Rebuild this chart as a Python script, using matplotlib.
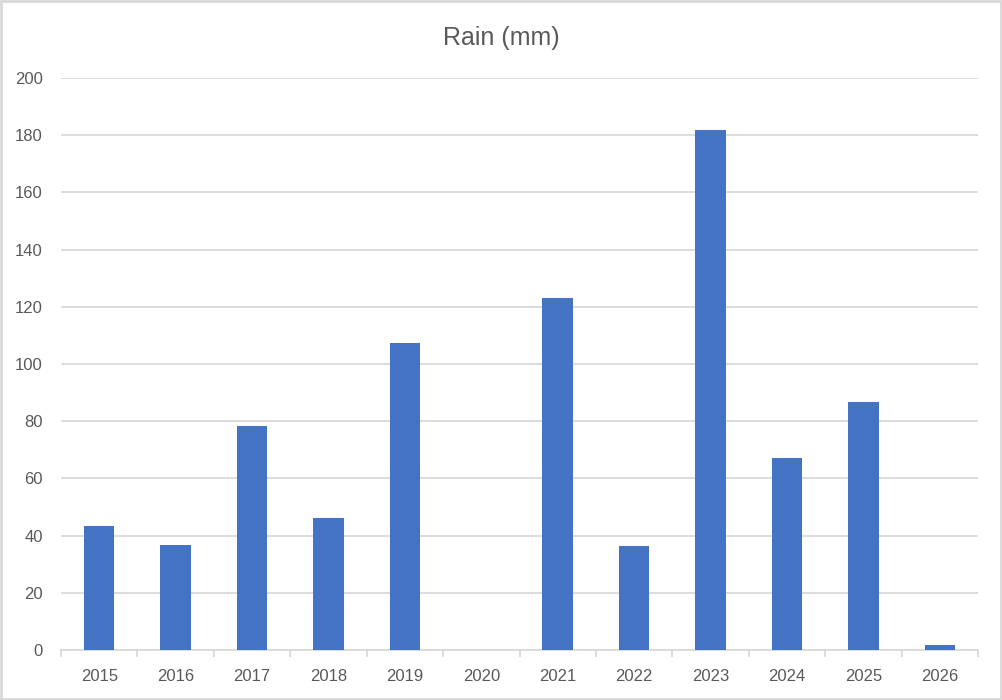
import matplotlib
matplotlib.use("Agg")
import matplotlib.pyplot as plt
from matplotlib.patches import Rectangle
import numpy as np

years = ["2015", "2016", "2017", "2018", "2019", "2020", "2021", "2022", "2023", "2024", "2025", "2026"]
rain = [43.5, 36.8, 78.2, 46.3, 107.3, 0, 123.0, 36.5, 181.8, 67.3, 86.6, 1.8]
yticks = [0, 20, 40, 60, 80, 100, 120, 140, 160, 180, 200]

plt.rcParams['font.family'] = ['Liberation Sans', 'DejaVu Sans']
text_color = "#595959"
grid_color = "#D9D9D9"

fig = plt.figure(figsize=(10.02, 7.0), dpi=100)
ax = fig.add_axes([61/1002, 1-650/700, (978-61)/1002, (650-78)/700])

x = np.arange(len(years))
ax.bar(x, rain, width=0.4, color="#4472C4", zorder=3)

ax.set_xlim(-0.5, len(years)-0.5)
ax.set_ylim(0, 200)
ax.set_yticks(yticks)
ax.set_yticklabels([str(v) for v in yticks])
ax.set_xticks(x)
ax.set_xticklabels(years)
ax.set_xticks(np.arange(-0.5, len(years), 1.0), minor=True)

ax.grid(axis='y', color=grid_color, linewidth=1.3, zorder=0)
for s in ['top', 'right', 'left']:
    ax.spines[s].set_visible(False)
ax.spines['bottom'].set_color(grid_color)
ax.spines['bottom'].set_linewidth(1.3)

ax.tick_params(axis='y', length=0, pad=13, labelsize=12, labelcolor=text_color)
ax.tick_params(axis='x', which='major', length=0, pad=13.5, labelsize=12, labelcolor=text_color)
ax.tick_params(axis='x', which='minor', length=5, width=1.3, color=grid_color)

fig.text(0.5, 1-38/700, "Rain (mm)", ha='center', va='center', fontsize=18, color=text_color)

fig.patches.append(Rectangle((1/1002, 1/700), 1-2/1002, 1-2/700, transform=fig.transFigure,
                             fill=False, edgecolor=grid_color, linewidth=2))

fig.savefig("out.png", dpi=100)
